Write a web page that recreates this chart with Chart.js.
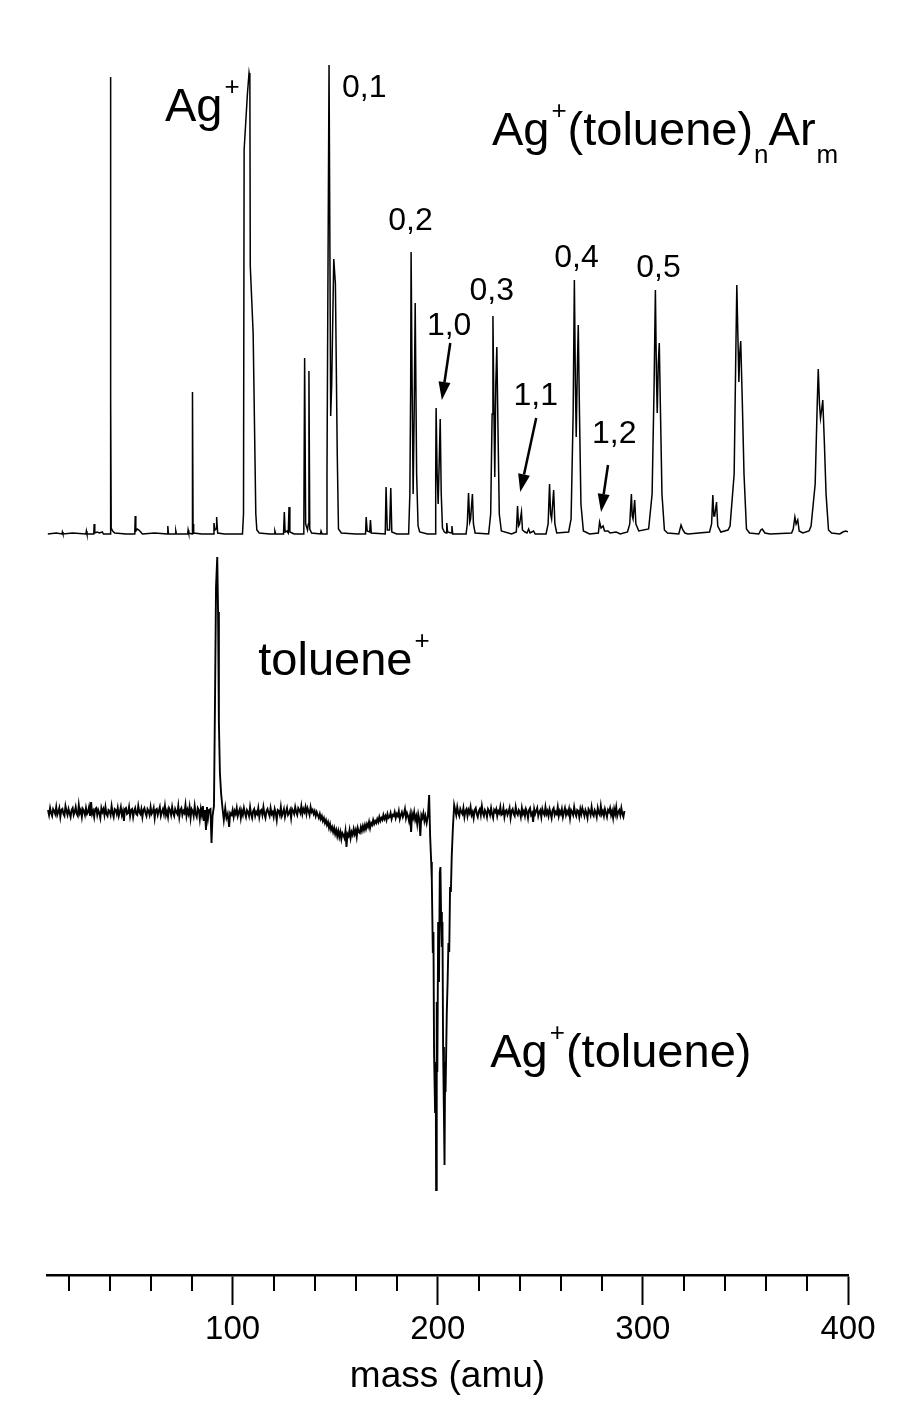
<!DOCTYPE html>
<html>
<head>
<meta charset="utf-8">
<script src="https://cdn.jsdelivr.net/npm/chart.js@4.4.1/dist/chart.umd.min.js"></script>
<style>
  html, body { margin: 0; padding: 0; background: #ffffff; }
  #wrap { position: relative; width: 915px; height: 1411px; }
</style>
</head>
<body>
<div id="wrap"><canvas id="c" width="915" height="1411"></canvas></div>
<script>
// ---------------- DATA ----------------
// Upper spectrum: Ag+(toluene)nArm mass spectrum  [mass (amu), intensity (arb.)]
const upperTrace = [
  [9.9,0],[14,1],[16.8,0],[17.0,2],[17.3,0],[22,1],[28.5,0],[28.7,3],[29,0],[32.3,0],[32.5,10],[32.8,1],[34,2],[35,1],[36.5,2],[37,0],
  [40.3,0],[40.45,457],[40.6,140],[40.8,6],[41.5,3],[42.5,1],
  [48,0],[52.3,0],[52.5,18],[52.8,3],[53.5,5],[54.3,4],[55.2,2],[56,0],[62,1],
  [68.2,0],[68.4,8],[68.7,0],[72.1,0],[72.3,3],[72.6,0],[78.1,0],[78.3,4],[78.6,1],
  [80.2,0],[80.35,50],[80.5,142],[80.7,10],[81,1],[85,0],
  [90.6,0],[90.9,11],[91.4,4],[91.9,5],[92.2,17],[92.7,1],[96,0],
  [104.8,0],[105.3,20],[105.6,384],[107.2,440],[108.0,461],[108.4,455],[108.6,268],[110.0,201],[111.3,20],[111.8,4],[113,1],
  [118,0],[120.4,0],[120.6,3],[121,0],
  [124.8,0],[125.2,22],[125.6,2],[126.5,3],[127.1,1],[127.5,27],[127.9,2],[130,0],
  [134.7,0],[135.1,176],[135.6,10],[136.5,4],[136.9,10],[137.2,163],[137.6,5],[138.5,1],
  [142.8,0],[143.1,3],[143.6,0],
  [145.6,0],[146.0,60],[146.4,228],[147.0,469],[147.8,118],[148.3,150],[149.3,275],[150.1,250],[151.0,80],[151.6,5],[153,1],
  [160,0],[164.8,0],[165.1,17],[165.6,3],[166.8,2],[167.2,14],[167.6,1],
  [174.4,0],[174.8,47],[175.4,4],[176.5,4],[177.1,46],[177.6,2],[180,0],
  [185.8,0],[186.4,40],[186.8,150],[187.0,282],[187.5,150],[188.0,40],[188.5,120],[189.0,231],[189.7,60],[190.4,8],[191.2,2],
  [195,0],[198.7,0],[199.0,60],[199.2,126],[199.7,60],[200.2,30],[200.8,80],[201.2,115],[201.7,40],[202.3,6],[203.2,2],
  [204.1,1],[204.4,11],[204.8,2],[206.6,1],[206.9,8],[207.3,0],
  [213.8,0],[214.4,10],[215.0,41],[215.6,12],[216.0,15],[216.9,40],[217.4,10],[218.2,1],
  [224.8,0],[225.8,20],[226.5,120],[226.9,218],[227.4,120],[227.8,57],[228.3,150],[228.8,187],[229.4,100],[230.0,20],[231,3],
  [236,0],[238.3,2],[238.9,28],[239.4,8],[239.9,10],[240.8,22],[241.3,4],[242.5,2],[243.5,1],[244.3,5],[245,1],[246.7,3],[247.5,0],
  [252.8,0],[253.8,10],[254.5,50],[255.0,20],[255.5,15],[256.5,44],[257.1,10],[258,1],
  [263.8,2],[265.0,15],[266.0,120],[266.6,254],[267.1,150],[267.5,97],[268.0,160],[268.5,209],[269.1,120],[269.8,30],[271,3],[274,0],
  [278.3,1],[278.9,12],[279.6,6],[280.6,8],[281.3,3],[283,3],[284,1],[287,2],[289,0],
  [292.5,2],[293.6,10],[294.4,40],[294.8,18],[295.2,15],[296.0,34],[296.6,10],[298,3],
  [302.8,5],[304.5,40],[305.4,140],[306.1,244],[306.6,160],[307.0,121],[307.5,170],[308.0,191],[308.6,120],[309.3,40],[310.5,4],[312,1],
  [317.5,0],[318.6,9],[319.5,4],[320.5,1],[322,0],
  [332.5,2],[333.5,10],[334.1,39],[334.6,18],[335.0,18],[335.9,32],[336.5,8],[338,2],
  [341.5,4],[342.5,8],[344.5,60],[345.3,180],[345.8,249],[346.3,200],[346.8,152],[347.2,180],[347.7,193],[348.5,130],[349.3,60],[350.5,5],[352,1],
  [356.5,0],[357.5,4],[358.2,5],[359.5,1],[362,0],
  [372.5,1],[373.3,5],[374.1,17],[374.7,10],[375.5,14],[376.2,3],[378,1],
  [381,3],[382,8],[384,50],[385.0,130],[385.5,165],[386.1,130],[386.6,116],[387.2,125],[387.7,134],[388.5,90],[389.3,40],[390.5,4],[392,1],
  [396,0],[397.5,2],[398.8,3],[400.3,2]
];

// Lower spectrum: photodissociation difference spectrum, sampled every 0.5 amu in the flat parts
const lowerSampleStep = 0.5;
const lowerNoiseAStart = 10;     // 10 ... 88 amu
const lowerNoiseA = [
  2,-3,4,-1,-4,3,1,-2,5,-3,
  0,4,-5,2,3,-2,-4,6,1,-3,
  3,-1,-5,2,4,-3,0,5,-2,-4,
  7,-1,2,-5,3,1,-3,4,-2,0,
  5,-4,10,-2,1,-5,3,4,-3,2,
  -1,-6,4,0,3,-3,5,-2,-4,2,
  1,-3,6,-1,-5,3,2,-2,4,-4,
  0,5,-3,1,-9,3,4,-2,-1,5,
  -4,2,3,-5,1,4,-2,-3,6,0,
  -2,3,-5,2,4,-1,-4,3,1,-3,
  5,-2,0,4,-6,2,3,-3,1,5,
  -4,0,3,-2,6,-3,1,-5,4,2,
  -3,5,-1,-4,3,0,-2,6,-5,2,
  4,-3,1,-1,7,-4,2,-2,5,-6,
  3,1,-4,6,-2,-5,4,2,-7,3,
  -3,6,-9,2,-18,5,-6
];
// toluene+ appearance peak  [mass, signal]
const lowerToluenePeak = [
  [88.5,2],[89.2,3],[89.7,-31],[90.2,-4],[90.9,6],[91.4,110],[91.9,225],[92.5,255],[92.9,200],[93.3,90],[93.8,39],
  [94.4,18],[95.1,3],[95.7,-8],[96.4,4],[97.0,-6],[97.6,-2],[98.3,-15],[98.8,-1]
];
const lowerNoiseBStart = 99.5;   // 99.5 ... 194 amu
const lowerNoiseB = [
  -3,2,-5,1,-2,4,-4,0,3,-6,
  1,-3,4,-1,-5,2,0,-4,5,-2,
  -6,1,3,-4,0,-2,4,-5,1,2,
  -3,5,-2,-6,1,3,-1,-4,4,-2,
  0,-5,3,-1,-8,2,1,-3,5,-4,
  -1,3,-5,0,4,-3,-1,2,-6,3,
  1,-2,5,0,-3,4,2,-1,6,-2,
  3,0,5,-2,4,1,-3,5,0,2,
  -2,1,-4,0,-3,-6,-2,-7,-4,-9,
  -6,-11,-8,-13,-10,-16,-12,-18,-15,-20,
  -16,-22,-18,-24,-19,-25,-20,-27,-21,-23,
  -26,-19,-35,-22,-24,-18,-26,-20,-23,-17,
  -22,-18,-25,-16,-20,-21,-15,-19,-14,-18,
  -13,-17,-12,-15,-10,-16,-11,-13,-8,-12,
  -9,-11,-7,-10,-5,-9,-6,-8,-3,-7,
  -4,-8,-2,-6,-5,-1,-7,-3,-4,0,
  -6,-2,-4,1,-7,-3,0,-5,-2,3,
  -6,-1,-4,-9,-3,-20,-2,-6,0,-8,
  -4,-12,-2,-7,-24,-3,-6,-1,-9,-4
];
// Ag+(toluene) depletion  [mass, signal]
const lowerDepletion = [
  [194.6,-11],[195.2,-4],[195.8,17],[196.3,-25],[196.8,-50],[197.1,-68],[197.6,-141],[197.9,-120],[198.2,-241],[198.7,-300],
  [199.0,-250],[199.2,-378],[199.5,-190],[199.8,-260],[200.2,-110],[200.6,-170],[201.0,-60],[201.3,-55],[201.6,-100],[202.0,-135],
  [202.3,-110],[202.6,-235],[203.0,-300],[203.3,-353],[203.6,-250],[203.8,-280],[204.4,-201],[204.8,-170],[205.2,-131],[205.6,-140],
  [206.0,-75],[206.4,-80],[206.8,-45],[207.4,-15],[208.0,7]
];
const lowerNoiseCStart = 208.5;  // 208.5 ... 291 amu
const lowerNoiseC = [
  2,-3,5,-1,-4,3,0,-2,4,-5,
  1,3,-4,2,-1,5,-3,0,-6,2,
  4,-2,-5,1,3,-3,6,-1,-4,2,
  0,-5,3,1,-3,4,-2,-6,2,0,
  3,-4,1,-1,5,-3,-2,4,-5,1,
  2,-3,0,4,-6,1,3,-2,-4,5,
  -1,-3,2,0,-5,4,-2,1,-4,3,
  0,-6,2,4,-3,-1,-10,3,-2,1,
  4,-4,0,2,-5,3,-1,-3,5,-2,
  1,-4,3,-1,-6,2,4,-3,0,-2,
  5,-4,1,-2,3,-5,0,4,-3,1,
  -2,3,-6,2,0,-3,5,-1,-4,2,
  1,-5,3,-2,4,0,-4,2,-1,-6,
  3,1,-3,5,-2,-4,2,0,-5,4,
  -1,-3,6,-2,1,-4,3,-1,-5,2,
  0,4,-3,1,-6,3,-2,5,-4,0,
  2,-3,4,-2,-5,1
];

// x-axis ticks (amu)
const xTickValues = [20,40,60,80,100,120,140,160,180,200,220,240,260,280,300,320,340,360,380,400];
const majorTickValues = [100, 200, 300, 400];
const xMin = 9.5, xMax = 400;

// Peak labels
const peakLabels = [
  { parts: [['Ag','n'],['+','sup']], mass: 67.0, value: 413, trace: 'upper', size: 47 },
  { parts: [['0,1','n']], mass: 153.3, value: 437, trace: 'upper', size: 32 },
  { parts: [['0,2','n']], mass: 175.9, value: 304, trace: 'upper', size: 32 },
  { parts: [['1,0','n']], mass: 194.7, value: 199, trace: 'upper', size: 32 },
  { parts: [['0,3','n']], mass: 215.5, value: 234, trace: 'upper', size: 32 },
  { parts: [['1,1','n']], mass: 236.9, value: 129, trace: 'upper', size: 32 },
  { parts: [['0,4','n']], mass: 256.8, value: 267, trace: 'upper', size: 32 },
  { parts: [['1,2','n']], mass: 275.2, value: 91, trace: 'upper', size: 32 },
  { parts: [['0,5','n']], mass: 296.8, value: 257, trace: 'upper', size: 32 },
  { parts: [['Ag','n'],['+','sup'],['(toluene)','n'],['n','sub'],['Ar','n'],['m','sub']], mass: 226.4, value: 389, trace: 'upper', size: 47 },
  { parts: [['toluene','n'],['+','sup']], mass: 112.5, value: 137, trace: 'lower', size: 47 },
  { parts: [['Ag','n'],['+','sup'],['(toluene)','n']], mass: 225.6, value: -255, trace: 'lower', size: 47 }
];

// Arrows on the upper trace: [from mass, from intensity, to mass, to intensity]
const arrows = [
  [206.1, 191, 202.0, 134],
  [248.0, 116, 240.2, 42],
  [283.0, 69, 279.6, 22]
];

// vertical offsets of the two stacked traces (plot units)
const UPPER_OFFSET = 741;
const LOWER_OFFSET = 463;

// ---------------- BUILD ----------------
const sampled = (start, vals) => vals.map((v, i) => [start + i * lowerSampleStep, v]);
const lowerTrace = [
  ...sampled(lowerNoiseAStart, lowerNoiseA),
  ...lowerToluenePeak,
  ...sampled(lowerNoiseBStart, lowerNoiseB),
  ...lowerDepletion,
  ...sampled(lowerNoiseCStart, lowerNoiseC)
];

const FONT = "'Liberation Sans', Arial, sans-serif";

const annotationPlugin = {
  id: 'annot',
  afterDatasetsDraw(chart) {
    const ctx = chart.ctx;
    const xs = chart.scales.x, ys = chart.scales.y;
    ctx.save();
    ctx.fillStyle = '#000';
    ctx.strokeStyle = '#000';
    ctx.textBaseline = 'alphabetic';
    ctx.textAlign = 'left';
    peakLabels.forEach(lb => {
      const off = lb.trace === 'upper' ? UPPER_OFFSET : LOWER_OFFSET;
      let px = xs.getPixelForValue(lb.mass);
      const py = ys.getPixelForValue(off + lb.value);
      lb.parts.forEach(([t, kind]) => {
        let size = lb.size, dy = 0;
        if (kind === 'sup') { size = Math.round(lb.size * 0.56); dy = -lb.size * 0.56; px += 2; }
        if (kind === 'sub') { size = Math.round(lb.size * 0.55); dy = lb.size * 0.38; px += 1; }
        ctx.font = size + 'px ' + FONT;
        ctx.fillText(t, px, py + dy);
        px += ctx.measureText(t).width + (kind === 'sup' ? 1 : 0);
      });
    });
    arrows.forEach(([m0, v0, m1, v1]) => {
      const x0 = xs.getPixelForValue(m0), y0 = ys.getPixelForValue(UPPER_OFFSET + v0);
      const x1 = xs.getPixelForValue(m1), y1 = ys.getPixelForValue(UPPER_OFFSET + v1);
      const ang = Math.atan2(y1 - y0, x1 - x0);
      const hl = 18, hw = 6;
      const bx = x1 - hl * Math.cos(ang), by = y1 - hl * Math.sin(ang);
      ctx.lineWidth = 2.5;
      ctx.beginPath(); ctx.moveTo(x0, y0); ctx.lineTo(bx, by); ctx.stroke();
      ctx.beginPath();
      ctx.moveTo(x1, y1);
      ctx.lineTo(bx + hw * Math.sin(ang), by - hw * Math.cos(ang));
      ctx.lineTo(bx - hw * Math.sin(ang), by + hw * Math.cos(ang));
      ctx.closePath(); ctx.fill();
    });
    ctx.restore();
  },
  afterDraw(chart) {
    // minor tick marks (shorter), positioned by the x scale
    const ctx = chart.ctx, xs = chart.scales.x;
    ctx.save();
    ctx.strokeStyle = '#000';
    ctx.lineWidth = 2;
    xs.ticks.forEach(t => {
      if (majorTickValues.includes(t.value)) return;
      const x = Math.round(xs.getPixelForValue(t.value));
      ctx.beginPath();
      ctx.moveTo(x, xs.top);
      ctx.lineTo(x, xs.top + 16);
      ctx.stroke();
    });
    ctx.restore();
  }
};

new Chart(document.getElementById('c'), {
  type: 'line',
  data: {
    datasets: [
      {
        data: upperTrace.map(([m, v]) => ({ x: m, y: v + UPPER_OFFSET })),
        borderColor: '#000', borderWidth: 1.5, pointRadius: 0, tension: 0, fill: false
      },
      {
        data: lowerTrace.map(([m, v]) => ({ x: m, y: v + LOWER_OFFSET })),
        borderColor: '#000', borderWidth: 1.9, pointRadius: 0, tension: 0, fill: false
      }
    ]
  },
  options: {
    responsive: false,
    animation: false,
    devicePixelRatio: 1,
    layout: { padding: { left: 47, right: 67, top: 10, bottom: 0 } },
    plugins: { legend: { display: false }, tooltip: { enabled: false } },
    scales: {
      x: {
        type: 'linear', position: 'bottom', min: xMin, max: xMax,
        afterBuildTicks: s => { s.ticks = xTickValues.map(v => ({ value: v })); },
        afterFit: s => { s.height = 136; },
        ticks: {
          autoSkip: false, maxRotation: 0, padding: 5,
          color: '#000', font: { family: FONT, size: 33 },
          callback: v => majorTickValues.includes(v) ? String(v) : ''
        },
        grid: {
          drawOnChartArea: false, drawTicks: true, tickLength: 30, tickWidth: 2,
          tickColor: c => (c.tick && majorTickValues.includes(c.tick.value)) ? '#000' : 'rgba(0,0,0,0)'
        },
        border: { display: true, color: '#000', width: 2.5 },
        title: {
          display: true, text: 'mass (amu)', color: '#000',
          font: { family: FONT, size: 37 }, padding: { top: 0, bottom: 12 }
        }
      },
      y: { display: false, min: 0, max: 1265 }
    }
  },
  plugins: [annotationPlugin]
});
</script>
</body>
</html>
